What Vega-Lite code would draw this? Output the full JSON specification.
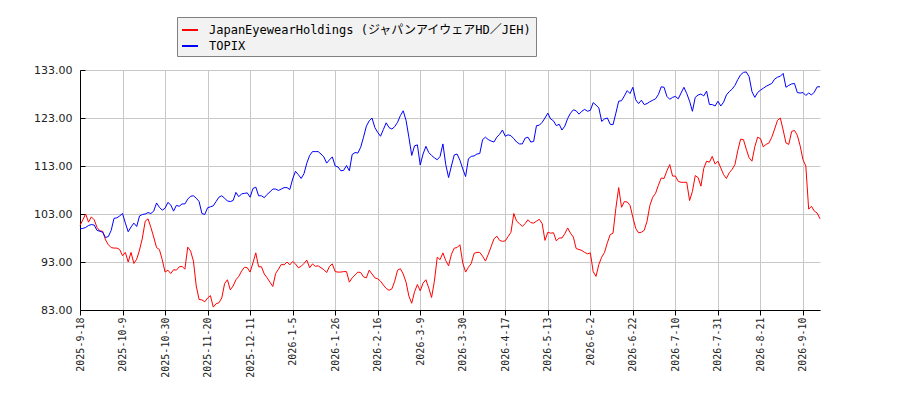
{
  "$schema": "https://vega.github.io/schema/vega-lite/v6.json",
  "width": 740,
  "height": 240,
  "autosize": {"type": "none"},
  "padding": {"left": 80, "top": 70, "right": 80, "bottom": 90},
  "background": "#ffffff",
  "config": {
    "view": {"stroke": null},
    "axis": {"domainColor": "#000000", "tickColor": "#000000", "gridColor": "#c8c8c8", "gridWidth": 1, "labelColor": "#222222", "title": null}
  },
  "data": {"values": [
{"day":0,"jeh":100.6,"topix":99.9},{"day":1,"jeh":101.8,"topix":100.0},{"day":2,"jeh":103.0,"topix":100.2},{"day":3,"jeh":101.3,"topix":100.6},{"day":4,"jeh":102.4,"topix":100.8},
{"day":5,"jeh":101.8,"topix":100.7},{"day":6,"jeh":100.2,"topix":99.6},{"day":7,"jeh":99.5,"topix":99.4},{"day":8,"jeh":99.4,"topix":99.2},{"day":9,"jeh":97.6,"topix":98.1},
{"day":10,"jeh":96.6,"topix":98.3},{"day":11,"jeh":96.0,"topix":99.6},{"day":12,"jeh":95.9,"topix":102.1},{"day":13,"jeh":95.9,"topix":102.2},{"day":14,"jeh":95.6,"topix":102.6},
{"day":15,"jeh":94.3,"topix":103.1},{"day":16,"jeh":95.0,"topix":101.1},{"day":17,"jeh":93.0,"topix":99.3},{"day":18,"jeh":95.0,"topix":100.3},{"day":19,"jeh":92.7,"topix":101.1},
{"day":20,"jeh":93.6,"topix":100.4},{"day":21,"jeh":95.5,"topix":102.6},{"day":22,"jeh":98.0,"topix":102.9},{"day":23,"jeh":101.5,"topix":103.0},{"day":24,"jeh":102.0,"topix":103.3},
{"day":25,"jeh":100.2,"topix":103.1},{"day":26,"jeh":98.2,"topix":103.6},{"day":27,"jeh":96.0,"topix":105.3},{"day":28,"jeh":95.6,"topix":104.4},{"day":29,"jeh":93.5,"topix":103.8},
{"day":30,"jeh":90.9,"topix":104.2},{"day":31,"jeh":91.3,"topix":105.4},{"day":32,"jeh":90.6,"topix":104.9},{"day":33,"jeh":91.4,"topix":103.6},{"day":34,"jeh":91.3,"topix":104.8},
{"day":35,"jeh":92.0,"topix":104.6},{"day":36,"jeh":92.1,"topix":105.1},{"day":37,"jeh":91.5,"topix":105.1},{"day":38,"jeh":96.1,"topix":106.1},{"day":39,"jeh":95.3,"topix":106.7},
{"day":40,"jeh":93.2,"topix":106.8},{"day":41,"jeh":88.0,"topix":106.3},{"day":42,"jeh":85.2,"topix":105.6},{"day":43,"jeh":85.1,"topix":103.1},{"day":44,"jeh":84.7,"topix":102.9},
{"day":45,"jeh":85.5,"topix":104.3},{"day":46,"jeh":86.0,"topix":104.5},{"day":47,"jeh":83.6,"topix":104.7},{"day":48,"jeh":84.3,"topix":105.6},{"day":49,"jeh":84.5,"topix":106.5},
{"day":50,"jeh":85.5,"topix":106.8},{"day":51,"jeh":88.5,"topix":106.3},{"day":52,"jeh":89.3,"topix":105.7},{"day":53,"jeh":87.2,"topix":105.6},{"day":54,"jeh":88.0,"topix":105.8},
{"day":55,"jeh":89.3,"topix":107.5},{"day":56,"jeh":90.0,"topix":106.6},{"day":57,"jeh":91.1,"topix":107.2},{"day":58,"jeh":91.9,"topix":107.3},{"day":59,"jeh":91.8,"topix":107.4},
{"day":60,"jeh":90.9,"topix":106.5},{"day":61,"jeh":92.8,"topix":108.3},{"day":62,"jeh":94.9,"topix":108.6},{"day":63,"jeh":92.0,"topix":106.8},{"day":64,"jeh":92.0,"topix":106.8},
{"day":65,"jeh":90.5,"topix":106.4},{"day":66,"jeh":89.7,"topix":107.1},{"day":67,"jeh":88.8,"topix":107.6},{"day":68,"jeh":87.9,"topix":108.2},{"day":69,"jeh":90.6,"topix":108.2},
{"day":70,"jeh":91.5,"topix":107.9},{"day":71,"jeh":92.5,"topix":108.2},{"day":72,"jeh":92.4,"topix":108.5},{"day":73,"jeh":93.0,"topix":108.5},{"day":74,"jeh":92.4,"topix":108.1},
{"day":75,"jeh":93.1,"topix":110.3},{"day":76,"jeh":92.6,"topix":111.9},{"day":77,"jeh":91.8,"topix":111.2},{"day":78,"jeh":92.1,"topix":110.4},{"day":79,"jeh":92.7,"topix":111.4},
{"day":80,"jeh":93.4,"topix":113.6},{"day":81,"jeh":91.8,"topix":115.2},{"day":82,"jeh":92.6,"topix":116.0},{"day":83,"jeh":92.1,"topix":116.0},{"day":84,"jeh":92.2,"topix":116.0},
{"day":85,"jeh":91.8,"topix":115.5},{"day":86,"jeh":91.4,"topix":114.9},{"day":87,"jeh":90.8,"topix":113.6},{"day":88,"jeh":92.1,"topix":114.3},{"day":89,"jeh":92.6,"topix":114.9},
{"day":90,"jeh":91.0,"topix":113.0},{"day":91,"jeh":90.9,"topix":112.8},{"day":92,"jeh":90.9,"topix":112.0},{"day":93,"jeh":91.0,"topix":112.1},{"day":94,"jeh":91.0,"topix":113.1},
{"day":95,"jeh":88.8,"topix":112.0},{"day":96,"jeh":89.7,"topix":115.4},{"day":97,"jeh":90.3,"topix":115.8},{"day":98,"jeh":90.9,"topix":115.7},{"day":99,"jeh":90.8,"topix":116.9},
{"day":100,"jeh":89.9,"topix":119.0},{"day":101,"jeh":89.7,"topix":121.3},{"day":102,"jeh":91.3,"topix":122.4},{"day":103,"jeh":90.5,"topix":123.0},{"day":104,"jeh":89.7,"topix":121.0},
{"day":105,"jeh":89.5,"topix":120.0},{"day":106,"jeh":89.0,"topix":119.2},{"day":107,"jeh":88.2,"topix":120.6},{"day":108,"jeh":87.5,"topix":122.0},{"day":109,"jeh":87.1,"topix":121.0},
{"day":110,"jeh":87.4,"topix":120.7},{"day":111,"jeh":89.0,"topix":121.2},{"day":112,"jeh":91.3,"topix":122.1},{"day":113,"jeh":91.6,"topix":123.5},{"day":114,"jeh":90.5,"topix":124.5},
{"day":115,"jeh":88.8,"topix":122.5},{"day":116,"jeh":85.9,"topix":119.0},{"day":117,"jeh":84.4,"topix":115.2},{"day":118,"jeh":86.8,"topix":117.2},{"day":119,"jeh":88.3,"topix":117.4},
{"day":120,"jeh":87.0,"topix":113.2},{"day":121,"jeh":88.6,"topix":115.5},{"day":122,"jeh":89.3,"topix":117.1},{"day":123,"jeh":87.6,"topix":115.8},{"day":124,"jeh":85.6,"topix":115.2},
{"day":125,"jeh":89.0,"topix":114.7},{"day":126,"jeh":94.0,"topix":114.3},{"day":127,"jeh":93.5,"topix":115.0},{"day":128,"jeh":94.9,"topix":117.6},{"day":129,"jeh":93.3,"topix":113.3},
{"day":130,"jeh":92.2,"topix":110.6},{"day":131,"jeh":94.6,"topix":113.0},{"day":132,"jeh":95.9,"topix":115.3},{"day":133,"jeh":96.0,"topix":115.5},{"day":134,"jeh":96.6,"topix":114.2},
{"day":135,"jeh":92.8,"topix":112.4},{"day":136,"jeh":90.9,"topix":110.8},{"day":137,"jeh":91.9,"topix":114.5},{"day":138,"jeh":92.7,"topix":115.0},{"day":139,"jeh":94.8,"topix":115.1},
{"day":140,"jeh":95.0,"topix":115.5},{"day":141,"jeh":95.0,"topix":115.6},{"day":142,"jeh":94.2,"topix":118.5},{"day":143,"jeh":93.2,"topix":119.0},{"day":144,"jeh":94.6,"topix":118.5},
{"day":145,"jeh":96.2,"topix":118.2},{"day":146,"jeh":97.8,"topix":118.0},{"day":147,"jeh":98.4,"topix":119.0},{"day":148,"jeh":97.5,"topix":119.6},{"day":149,"jeh":97.3,"topix":120.5},
{"day":150,"jeh":97.4,"topix":119.2},{"day":151,"jeh":98.3,"topix":119.5},{"day":152,"jeh":99.2,"topix":119.3},{"day":153,"jeh":103.1,"topix":118.7},{"day":154,"jeh":101.5,"topix":118.0},
{"day":155,"jeh":101.0,"topix":117.6},{"day":156,"jeh":100.4,"topix":117.6},{"day":157,"jeh":101.0,"topix":118.8},{"day":158,"jeh":101.8,"topix":119.0},{"day":159,"jeh":101.2,"topix":118.0},
{"day":160,"jeh":101.1,"topix":118.1},{"day":161,"jeh":101.5,"topix":121.4},{"day":162,"jeh":101.9,"topix":121.5},{"day":163,"jeh":101.0,"topix":122.1},{"day":164,"jeh":97.5,"topix":123.0},
{"day":165,"jeh":99.2,"topix":124.0},{"day":166,"jeh":99.0,"topix":122.8},{"day":167,"jeh":99.1,"topix":122.4},{"day":168,"jeh":97.4,"topix":121.4},{"day":169,"jeh":98.0,"topix":121.7},
{"day":170,"jeh":98.0,"topix":120.5},{"day":171,"jeh":98.9,"topix":121.3},{"day":172,"jeh":100.1,"topix":122.9},{"day":173,"jeh":99.0,"topix":124.0},{"day":174,"jeh":98.2,"topix":124.7},
{"day":175,"jeh":95.8,"topix":124.5},{"day":176,"jeh":95.6,"topix":123.8},{"day":177,"jeh":95.4,"topix":124.4},{"day":178,"jeh":95.0,"topix":124.8},{"day":179,"jeh":94.7,"topix":124.4},
{"day":180,"jeh":94.9,"topix":124.6},{"day":181,"jeh":91.0,"topix":126.2},{"day":182,"jeh":90.0,"topix":125.7},{"day":183,"jeh":92.5,"topix":125.1},{"day":184,"jeh":94.0,"topix":122.3},
{"day":185,"jeh":95.0,"topix":122.8},{"day":186,"jeh":97.0,"topix":123.0},{"day":187,"jeh":98.7,"topix":121.7},{"day":188,"jeh":99.0,"topix":121.6},{"day":189,"jeh":104.2,"topix":124.0},
{"day":190,"jeh":108.5,"topix":126.5},{"day":191,"jeh":104.4,"topix":126.6},{"day":192,"jeh":105.6,"topix":127.6},{"day":193,"jeh":105.5,"topix":128.7},{"day":194,"jeh":104.8,"topix":128.1},
{"day":195,"jeh":102.3,"topix":129.4},{"day":196,"jeh":100.0,"topix":126.8},{"day":197,"jeh":99.1,"topix":126.0},{"day":198,"jeh":99.2,"topix":126.7},{"day":199,"jeh":99.6,"topix":125.8},
{"day":200,"jeh":101.5,"topix":126.0},{"day":201,"jeh":104.8,"topix":126.4},{"day":202,"jeh":106.5,"topix":126.7},{"day":203,"jeh":107.3,"topix":127.0},{"day":204,"jeh":109.0,"topix":127.9},
{"day":205,"jeh":110.5,"topix":129.5},{"day":206,"jeh":110.4,"topix":129.4},{"day":207,"jeh":112.0,"topix":127.5},{"day":208,"jeh":113.3,"topix":126.9},{"day":209,"jeh":110.9,"topix":127.3},
{"day":210,"jeh":110.9,"topix":127.5},{"day":211,"jeh":109.8,"topix":127.0},{"day":212,"jeh":109.6,"topix":128.2},{"day":213,"jeh":109.6,"topix":129.4},{"day":214,"jeh":109.6,"topix":128.1},
{"day":215,"jeh":105.8,"topix":126.5},{"day":216,"jeh":107.7,"topix":124.4},{"day":217,"jeh":111.0,"topix":127.3},{"day":218,"jeh":110.6,"topix":127.8},{"day":219,"jeh":108.8,"topix":128.0},
{"day":220,"jeh":112.5,"topix":127.6},{"day":221,"jeh":114.0,"topix":128.6},{"day":222,"jeh":113.8,"topix":125.8},{"day":223,"jeh":115.0,"topix":125.8},{"day":224,"jeh":113.4,"topix":125.5},
{"day":225,"jeh":114.0,"topix":126.5},{"day":226,"jeh":112.6,"topix":125.5},{"day":227,"jeh":111.2,"topix":126.3},{"day":228,"jeh":110.4,"topix":127.8},{"day":229,"jeh":111.6,"topix":128.5},
{"day":230,"jeh":112.3,"topix":129.0},{"day":231,"jeh":113.3,"topix":129.8},{"day":232,"jeh":116.2,"topix":131.0},{"day":233,"jeh":118.6,"topix":132.0},{"day":234,"jeh":118.5,"topix":132.5},
{"day":235,"jeh":116.5,"topix":132.6},{"day":236,"jeh":114.7,"topix":131.6},{"day":237,"jeh":114.0,"topix":128.5},{"day":238,"jeh":117.0,"topix":127.3},{"day":239,"jeh":119.0,"topix":128.3},
{"day":240,"jeh":118.7,"topix":128.8},{"day":241,"jeh":117.0,"topix":129.2},{"day":242,"jeh":117.5,"topix":129.6},{"day":243,"jeh":117.8,"topix":129.9},{"day":244,"jeh":119.0,"topix":130.2},
{"day":245,"jeh":120.7,"topix":131.1},{"day":246,"jeh":122.5,"topix":131.5},{"day":247,"jeh":123.0,"topix":131.7},{"day":248,"jeh":120.5,"topix":132.3},{"day":249,"jeh":117.8,"topix":129.4},
{"day":250,"jeh":117.5,"topix":129.8},{"day":251,"jeh":120.2,"topix":130.1},{"day":252,"jeh":120.4,"topix":130.2},{"day":253,"jeh":119.4,"topix":128.3},{"day":254,"jeh":117.2,"topix":128.2},
{"day":255,"jeh":114.3,"topix":128.3},{"day":256,"jeh":113.0,"topix":127.7},{"day":257,"jeh":104.0,"topix":128.2},{"day":258,"jeh":104.6,"topix":127.8},{"day":259,"jeh":103.6,"topix":128.4},
{"day":260,"jeh":103.2,"topix":129.5},{"day":261,"jeh":102.0,"topix":129.5}
  ]},
  "transform": [{"fold": ["jeh", "topix"], "as": ["series", "value"]}],
  "mark": {"type": "line", "strokeWidth": 1, "interpolate": "linear"},
  "encoding": {
    "x": {
      "field": "day", "type": "quantitative",
      "scale": {"domain": [0, 261], "nice": false, "zero": false},
      "axis": {
        "values": [0, 15, 30, 45, 60, 75, 90, 105, 120, 135, 150, 165, 180, 195, 210, 225, 240, 255],
        "labelExpr": "['2025-9-18','2025-10-9','2025-10-30','2025-11-20','2025-12-11','2026-1-5','2026-1-26','2026-2-16','2026-3-9','2026-3-30','2026-4-17','2026-5-13','2026-6-2','2026-6-22','2026-7-10','2026-7-31','2026-8-21','2026-9-10'][round(datum.value / 15)]",
        "labelAngle": -90,
        "labelFont": "DejaVu Sans Mono",
        "labelFontSize": 10,
        "labelPadding": 2,
        "tickSize": 5,
        "grid": true,
        "labelOverlap": false,
        "labelBound": false,
        "labelFlush": false
      }
    },
    "y": {
      "field": "value", "type": "quantitative",
      "scale": {"domain": [83, 133], "nice": false, "zero": false},
      "axis": {
        "values": [83, 93, 103, 113, 123, 133],
        "format": ".2f",
        "labelFont": "DejaVu Sans",
        "labelFontSize": 11,
        "tickSize": -5,
        "labelPadding": 13,
        "grid": true,
        "labelOverlap": false
      }
    },
    "color": {
      "field": "series", "type": "nominal",
      "scale": {"domain": ["jeh", "topix"], "range": ["#ff0000", "#0000ff"]},
      "legend": {
        "title": null,
        "orient": "none",
        "legendX": 97,
        "legendY": -53,
        "direction": "vertical",
        "fillColor": "#f2f2f2",
        "strokeColor": "#808080",
        "padding": 4,
        "rowPadding": 1,
        "symbolType": "stroke",
        "symbolSize": 256,
        "symbolStrokeWidth": 2,
        "labelOffset": 10,
        "labelFont": "DejaVu Sans Mono, Noto Sans CJK JP",
        "labelFontSize": 12,
        "labelColor": "#000000",
        "labelLimit": 0,
        "labelExpr": "datum.label == 'jeh' ? 'JapanEyewearHoldings (ジャパンアイウェアHD／JEH)' : 'TOPIX'"
      }
    }
  }
}
